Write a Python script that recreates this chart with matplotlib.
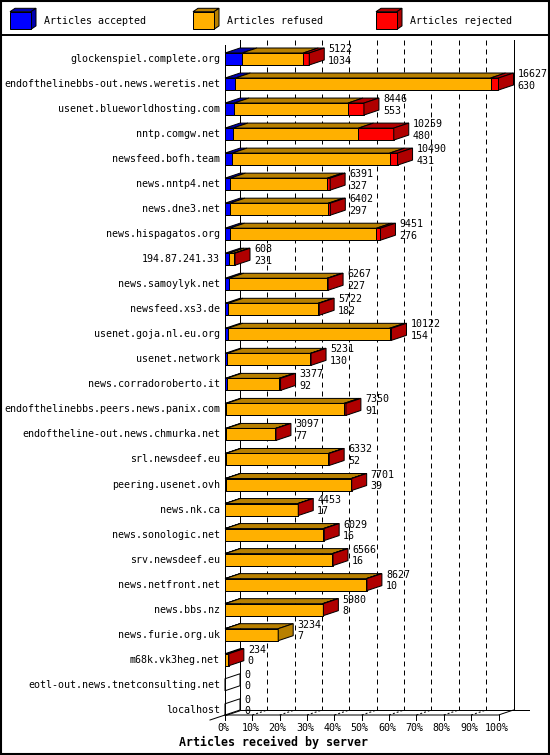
import numpy as np
import matplotlib
matplotlib.use("Agg")
import matplotlib.pyplot as plt
from matplotlib.patches import Polygon

# Datos: servidores y articulos
servers = [
    "glockenspiel.complete.org",
    "endofthelinebbs-out.news.weretis.net",
    "usenet.blueworldhosting.com",
    "nntp.comgw.net",
    "newsfeed.bofh.team",
    "news.nntp4.net",
    "news.dne3.net",
    "news.hispagatos.org",
    "194.87.241.33",
    "news.samoylyk.net",
    "newsfeed.xs3.de",
    "usenet.goja.nl.eu.org",
    "usenet.network",
    "news.corradoroberto.it",
    "endofthelinebbs.peers.news.panix.com",
    "endoftheline-out.news.chmurka.net",
    "srl.newsdeef.eu",
    "peering.usenet.ovh",
    "news.nk.ca",
    "news.sonologic.net",
    "srv.newsdeef.eu",
    "news.netfront.net",
    "news.bbs.nz",
    "news.furie.org.uk",
    "m68k.vk3heg.net",
    "eotl-out.news.tnetconsulting.net",
    "localhost",
]
totals = [5122, 16627, 8446, 10259, 10490, 6391, 6402, 9451, 608, 6267, 5722,
          10122, 5231, 3377, 7350, 3097, 6332, 7701, 4453, 6029, 6566, 8627,
          5980, 3234, 234, 0, 0]
accepted = [1034, 630, 553, 480, 431, 327, 297, 276, 231, 227, 182, 154, 130,
            92, 91, 77, 52, 39, 17, 16, 16, 10, 8, 7, 0, 0, 0]
rejected = [364, 485, 971, 2144, 485, 164, 121, 243, 60, 60, 60, 121, 40, 100,
            121, 30, 50, 20, 20, 50, 40, 40, 40, 0, 60, 0, 0]
refused = [t - a - r for t, a, r in zip(totals, accepted, rejected)]

series_names = ["Articles accepted", "Articles refused", "Articles rejected"]
front_colors = ["#0000ff", "#ffb000", "#ff0000"]
shade_colors = ["#0000b0", "#b88000", "#b00000"]
pct_ticks = list(range(0, 101, 10))

# Geometria en pixeles
W, H = 550, 755
X0, X1 = 225, 498.5
ROW0, PITCH = 59, 25.03
TOP, FLOOR = 45, 715

plt.rcParams['font.family'] = ['DejaVu Sans Mono']
fig = plt.figure(figsize=(W / 100, H / 100), dpi=100)

# lienzo en pixeles para marco y leyenda
canvas = fig.add_axes([0, 0, 1, 1])
canvas.set_xlim(0, W)
canvas.set_ylim(H, 0)
canvas.axis("off")
LW = 0.72
canvas.add_patch(plt.Rectangle((0.5, 0.5), W - 1.5, H - 1.5, fill=False,
                               ec="black", lw=1.5))
canvas.plot([0, W], [34.5, 34.5], color="black", lw=1.4)

for k in range(3):
    bx = 10 + 183 * k
    fx0, fx1, fy0, fy1, d, e = bx, bx + 21, 11.7, 29.3, 5, 3.4
    canvas.add_patch(Polygon([(fx0, fy0), (fx1, fy0), (fx1 + d, fy0 - e), (fx0 + d, fy0 - e)],
                             fc=shade_colors[k], ec="black", lw=LW))
    canvas.add_patch(Polygon([(fx1, fy0), (fx1 + d, fy0 - e), (fx1 + d, fy1 - e), (fx1, fy1)],
                             fc=shade_colors[k], ec="black", lw=LW))
    canvas.add_patch(Polygon([(fx0, fy0), (fx1, fy0), (fx1, fy1), (fx0, fy1)],
                             fc=front_colors[k], ec="black", lw=LW))
    canvas.text(bx + 34, 20.5, series_names[k], fontsize=7.2, va="center", ha="left")

canvas.text(273.5, 742, "Articles received by server", fontsize=8.4,
            fontweight="bold", ha="center", va="center")

# ejes del grafico
n = len(servers)
ax = fig.add_axes([X0 / W, 1 - FLOOR / H, (X1 - X0) / W, (FLOOR - TOP) / H])
y_floor = (FLOOR - ROW0) / PITCH
y_top = (TOP - ROW0) / PITCH
ax.set_xlim(0, 100)
ax.set_ylim(y_floor, y_top)
ax.axis("off")

PX = 100 / (X1 - X0)
PY = 1 / PITCH
DX, DY = 15 * PX, 5 * PY
HH = 6 * PY

# paredes y suelo
kw = dict(color="black", lw=LW, clip_on=False, zorder=2)
ax.plot([0, 0], [y_top, y_floor], **kw)
ax.plot([DX, DX], [y_top - DY, y_floor - DY], **kw)
ax.plot([100 + DX, 100 + DX], [y_top - DY, y_floor - DY], **kw)
ax.plot([DX, 100 + 2 * DX], [y_floor - DY, y_floor - DY], **kw)
ax.plot([0, 100, 100 + DX], [y_floor, y_floor, y_floor - DY], **kw)
ax.plot([-DX, DX], [y_floor + DY, y_floor - DY], **kw)
for p in pct_ticks:
    ax.plot([p, p], [y_floor, y_floor + 5 * PY], **kw)
    if 0 < p < 100:
        ax.plot([p + DX, p + DX], [y_top - DY, y_floor - DY], color="black",
                lw=LW, dashes=(5, 4), clip_on=False, zorder=1)
        ax.plot([p, p + DX], [y_floor, y_floor - DY], color="black",
                lw=LW, dashes=(2, 2), clip_on=False, zorder=1)
    ax.text(p - 2 * PX, y_floor + 13 * PY, f"{p}%", fontsize=7.2,
            ha="center", va="center")

# barras 3D
vmax = max(totals)
for i in range(n):
    vals = [accepted[i], refused[i], rejected[i]]
    top, bot = i - HH, i + HH
    x = 0.0
    last = None
    for k, v in enumerate(vals):
        w = v / vmax * 100
        if w <= 0:
            continue
        x0, x1 = x, x + w
        ax.add_patch(Polygon([(x0, top), (x1, top), (x1 + DX, top - DY), (x0 + DX, top - DY)],
                             fc=shade_colors[k], ec="black", lw=LW, zorder=3, clip_on=False))
        ax.add_patch(Polygon([(x0, top), (x1, top), (x1, bot), (x0, bot)],
                             fc=front_colors[k], ec="black", lw=LW, zorder=3, clip_on=False))
        x = x1
        last = k
    side = [(x, top), (x + DX, top - DY), (x + DX, bot - DY), (x, bot)]
    if last is None:
        ax.add_patch(Polygon(side, fill=False, ec="black", lw=LW, zorder=3, clip_on=False))
    else:
        ax.add_patch(Polygon(side, fc=shade_colors[last], ec="black", lw=LW,
                             zorder=3, clip_on=False))
    tx = x + DX + 4 * PX
    ax.text(tx, i - 10 * PY, str(totals[i]), fontsize=7.2, ha="left",
            va="center", zorder=5, clip_on=False)
    ax.text(tx, i + 1.5 * PY, str(accepted[i]), fontsize=7.2, ha="left",
            va="center", zorder=5, clip_on=False)
    ax.text(-5 * PX, i, servers[i], fontsize=7.2, ha="right", va="center",
            clip_on=False)

fig.savefig("out.png", dpi=100)
